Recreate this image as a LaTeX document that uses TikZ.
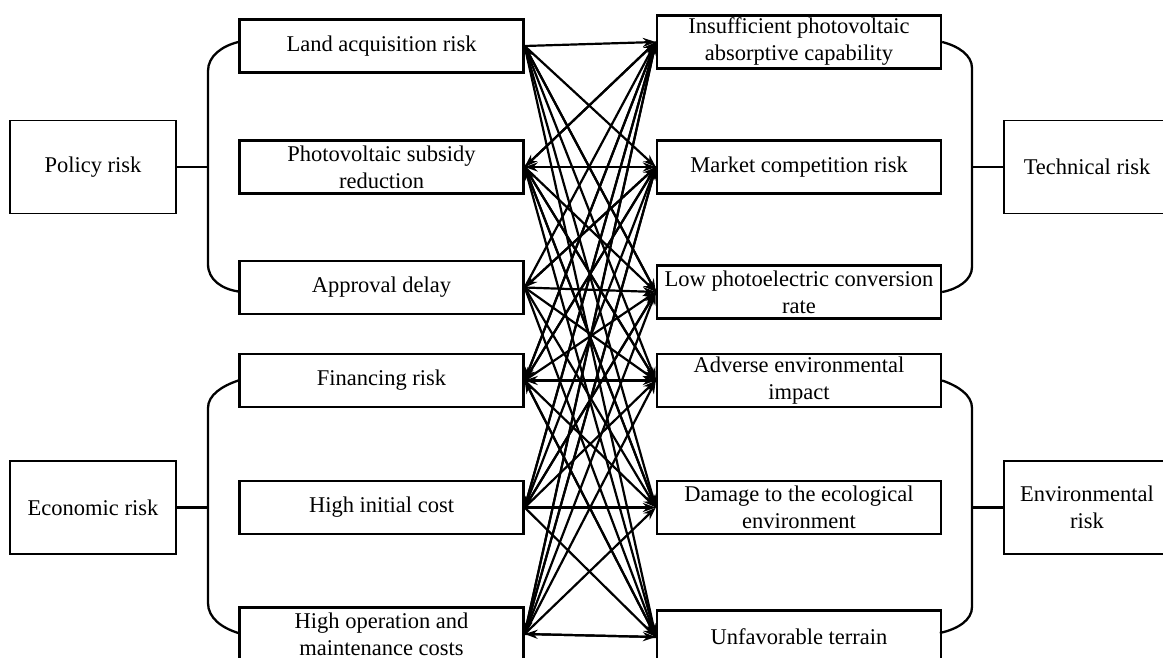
\documentclass[tikz,border=0pt]{standalone}
\usepackage{fontspec}
\setmainfont{Liberation Serif}
\usetikzlibrary{arrows.meta,calc}
\begin{document}
\begin{tikzpicture}[x=1pt,y=-1pt,
  box/.style={draw,line width=2.3pt,minimum width=284pt,minimum height=53pt,inner sep=1pt,align=center,font=\fontsize{22.5}{27}\selectfont},
  cat/.style={draw,line width=1.8pt,minimum width=166pt,minimum height=93pt,inner sep=1pt,align=center,font=\fontsize{22.5}{27}\selectfont},
  brace/.style={line width=2.3pt},
  link/.style={line width=2.2pt,-{Stealth[length=13pt,width=9pt]}}]
\path[use as bounding box,clip] (0,0) rectangle (1163,658);
% left factor boxes
\node[box] (L1) at (381.5,46) {Land acquisition risk};
\node[box] (L2) at (381.5,167) {Photovoltaic subsidy\\reduction};
\node[box] (L3) at (381.5,287.5) {Approval delay};
\node[box] (L4) at (381.5,380.5) {Financing risk};
\node[box] (L5) at (381.5,507.5) {High initial cost};
\node[box] (L6) at (381.5,634) {High operation and\\maintenance costs};
% right factor boxes
\node[box] (R1) at (799,42) {Insufficient photovoltaic\\absorptive capability};
\node[box] (R2) at (799,167) {Market competition risk};
\node[box] (R3) at (799,292) {Low photoelectric conversion\\rate};
\node[box] (R4) at (799,380.5) {Adverse environmental\\impact};
\node[box] (R5) at (799,507.5) {Damage to the ecological\\environment};
\node[box] (R6) at (799,637) {Unfavorable terrain};
% category boxes
\node[cat] (P) at (93,167) {Policy risk};
\node[cat] (E) at (93,507.5) {Economic risk};
\node[cat] (T) at (1087,167) {Technical risk};
\node[cat] (V) at (1087,507.5) {Environmental\\risk};
% braces
\coordinate (pj) at (208,167);
\coordinate (ej) at (208,507.5);
\coordinate (tj) at (972,167);
\coordinate (vj) at (972,507.5);
\draw[brace] ($(L1.west)+(0,-4)$) .. controls (222,46) and (208,56) .. (208,71) -- (208,264) .. controls (208,280) and (222,289) .. ($(L3.west)+(0,4)$);
\draw[brace] (P.east) -- (pj);
\draw[brace] (L4.west) .. controls (222,386) and (208,395) .. (208,408) -- (208,603) .. controls (208,618) and (222,628) .. ($(L6.west)+(0,-1)$);
\draw[brace] (E.east) -- (ej);
\draw[brace] (R1.east) .. controls (958,46) and (972,55) .. (972,68) -- (972,267) .. controls (972,280) and (958,289) .. (R3.east);
\draw[brace] (tj) -- (T.west);
\draw[brace] (R4.east) .. controls (958,386) and (972,395) .. (972,408) -- (972,607) .. controls (972,620) and (958,629) .. ($(R6.west)+(284,-4)$);
\draw[brace] (vj) -- (V.west);
% connectors
\foreach \i in {1,...,6}{
  \foreach \j in {1,...,6}{
    \draw[link] (L\i.east) -- (R\j.west);
  }
}
\foreach \i/\j in {1/3, 2/1, 2/2, 2/4, 2/5, 3/2, 4/1, 4/2, 4/4, 4/6, 5/1, 5/3, 6/1, 6/2, 6/6}{
  \draw[link] (R\j.west) -- (L\i.east);
}
\end{tikzpicture}
\end{document}
